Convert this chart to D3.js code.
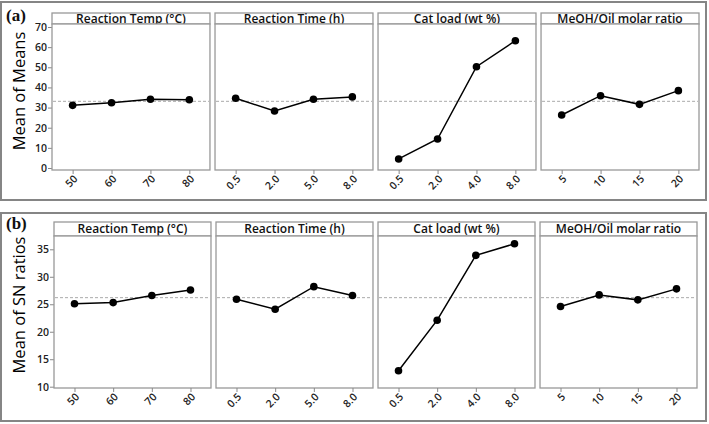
<!DOCTYPE html>
<html><head><meta charset="utf-8">
<script src="https://cdn.jsdelivr.net/npm/d3@7"></script>
<style>body{margin:0;background:#fff}svg{display:block}</style>
</head><body><svg id="c" width="709" height="424"></svg>
<script>
const factors = ["Reaction Temp (°C)", "Reaction Time (h)", "Cat load (wt %)", "MeOH/Oil molar ratio"];
const levels = [["50","60","70","80"],["0.5","2.0","5.0","8.0"],["0.5","2.0","4.0","8.0"],["5","10","15","20"]];
const meansOfMeans = [[31.1,32.4,34.1,33.9],[34.6,28.3,34.1,35.3],[4.5,14.4,50.3,63.2],[26.3,35.9,31.6,38.4]];
const meansOfSN = [[25.1,25.3,26.6,27.6],[25.9,24.1,28.2,26.6],[12.9,22.1,33.9,36.0],[24.6,26.7,25.8,27.8]];
const overallMeans = [33.1, 26.2];
const yTicksA = [0,10,20,30,40,50,60,70];
const yTicksB = [10,15,20,25,30,35];

const svg = d3.select("#c");
const FONT = "'Open Sans', sans-serif";

const panels = [
  {tag:"(a)", title:"Mean of Means", data:meansOfMeans, mean:overallMeans[0], ticks:yTicksA,
   frame:[1,2,706,200], tagY:21, x0:52, x1:699, hTop:13, hBot:24, pBot:170,
   ydom:[0,70], yr:[168,27], titleY:91},
  {tag:"(b)", title:"Mean of SN ratios", data:meansOfSN, mean:overallMeans[1], ticks:yTicksB,
   frame:[1,213,706,421], tagY:229, x0:54, x1:697, hTop:222, hBot:236, pBot:388,
   ydom:[10,35], yr:[386.7,249.3], titleY:305}
];

panels.forEach(p => {
  const g = svg.append("g");
  g.append("rect").attr("x",p.frame[0]).attr("y",p.frame[1])
    .attr("width",p.frame[2]-p.frame[0]).attr("height",p.frame[3]-p.frame[1])
    .attr("fill","none").attr("stroke","#858585").attr("stroke-width",2);
  g.append("text").attr("x",6).attr("y",p.tagY).text(p.tag)
    .attr("font-family","'Liberation Serif', 'Times New Roman', serif").attr("font-weight","bold")
    .attr("font-size",17).attr("fill","#111");
  g.append("text").attr("transform",`translate(25,${p.titleY}) rotate(-90)`)
    .attr("text-anchor","middle").text(p.title)
    .attr("font-family",FONT).attr("font-weight",500).attr("font-size",16.5).attr("fill","#000");

  const fx = d3.scaleBand().domain(factors).range([p.x0,p.x1]).paddingInner(0.031);
  const y = d3.scaleLinear().domain(p.ydom).range(p.yr);

  // y axis
  const ya = g.append("g").attr("transform",`translate(${p.x0},0)`)
    .call(d3.axisLeft(y).tickValues(p.ticks).tickSize(4).tickPadding(1));
  ya.select(".domain").remove();
  ya.selectAll("line").attr("stroke","#888");
  ya.selectAll("text").attr("font-family",FONT).attr("font-weight",600).attr("font-size",10.5).attr("fill","#222");

  factors.forEach((f,i) => {
    const left = fx(f), w = fx.bandwidth();
    const x = d3.scalePoint().domain(levels[i]).range([left,left+w]).padding(0.53);
    // header
    g.append("rect").attr("x",left).attr("y",p.hTop).attr("width",w).attr("height",p.hBot-p.hTop)
      .attr("fill","#fff").attr("stroke","#999").attr("stroke-width",1.3);
    g.append("text").attr("x",left+w/2).attr("y",(p.hTop+p.hBot)/2).attr("dy","0.36em")
      .attr("text-anchor","middle").text(f)
      .attr("font-family",FONT).attr("font-weight",600).attr("font-size",12).attr("fill","#111");
    // plot box
    g.append("rect").attr("x",left).attr("y",p.hBot).attr("width",w).attr("height",p.pBot-p.hBot)
      .attr("fill","#fff").attr("stroke","#999").attr("stroke-width",1.3);
    // mean ref line
    g.append("line").attr("x1",left+1).attr("x2",left+w-1).attr("y1",y(p.mean)).attr("y2",y(p.mean))
      .attr("stroke","#aaa").attr("stroke-width",1).attr("stroke-dasharray","3,2");
    // x axis ticks
    const xa = g.append("g").attr("transform",`translate(0,${p.pBot})`)
      .call(d3.axisBottom(x).tickSize(4).tickFormat(""));
    xa.select(".domain").remove();
    xa.selectAll("line").attr("stroke","#888");
    // rotated labels
    levels[i].forEach(l => {
      g.append("g").attr("transform",`translate(${x(l)+3},${p.pBot+7})`)
        .append("text").attr("transform","rotate(-45)")
        .attr("text-anchor","end").attr("dy","0.35em").text(l)
        .attr("font-family",FONT).attr("font-weight",600).attr("font-size",10.5).attr("fill","#222");
    });
    // line + points
    const pts = levels[i].map((l,j)=>[x(l), y(p.data[i][j])]);
    g.append("path").attr("d",d3.line()(pts)).attr("fill","none").attr("stroke","#000").attr("stroke-width",1.5);
    g.selectAll(null).data(pts).enter().append("circle")
      .attr("cx",d=>d[0]).attr("cy",d=>d[1]).attr("r",3.8).attr("fill","#000");
  });
});
</script></body></html>
